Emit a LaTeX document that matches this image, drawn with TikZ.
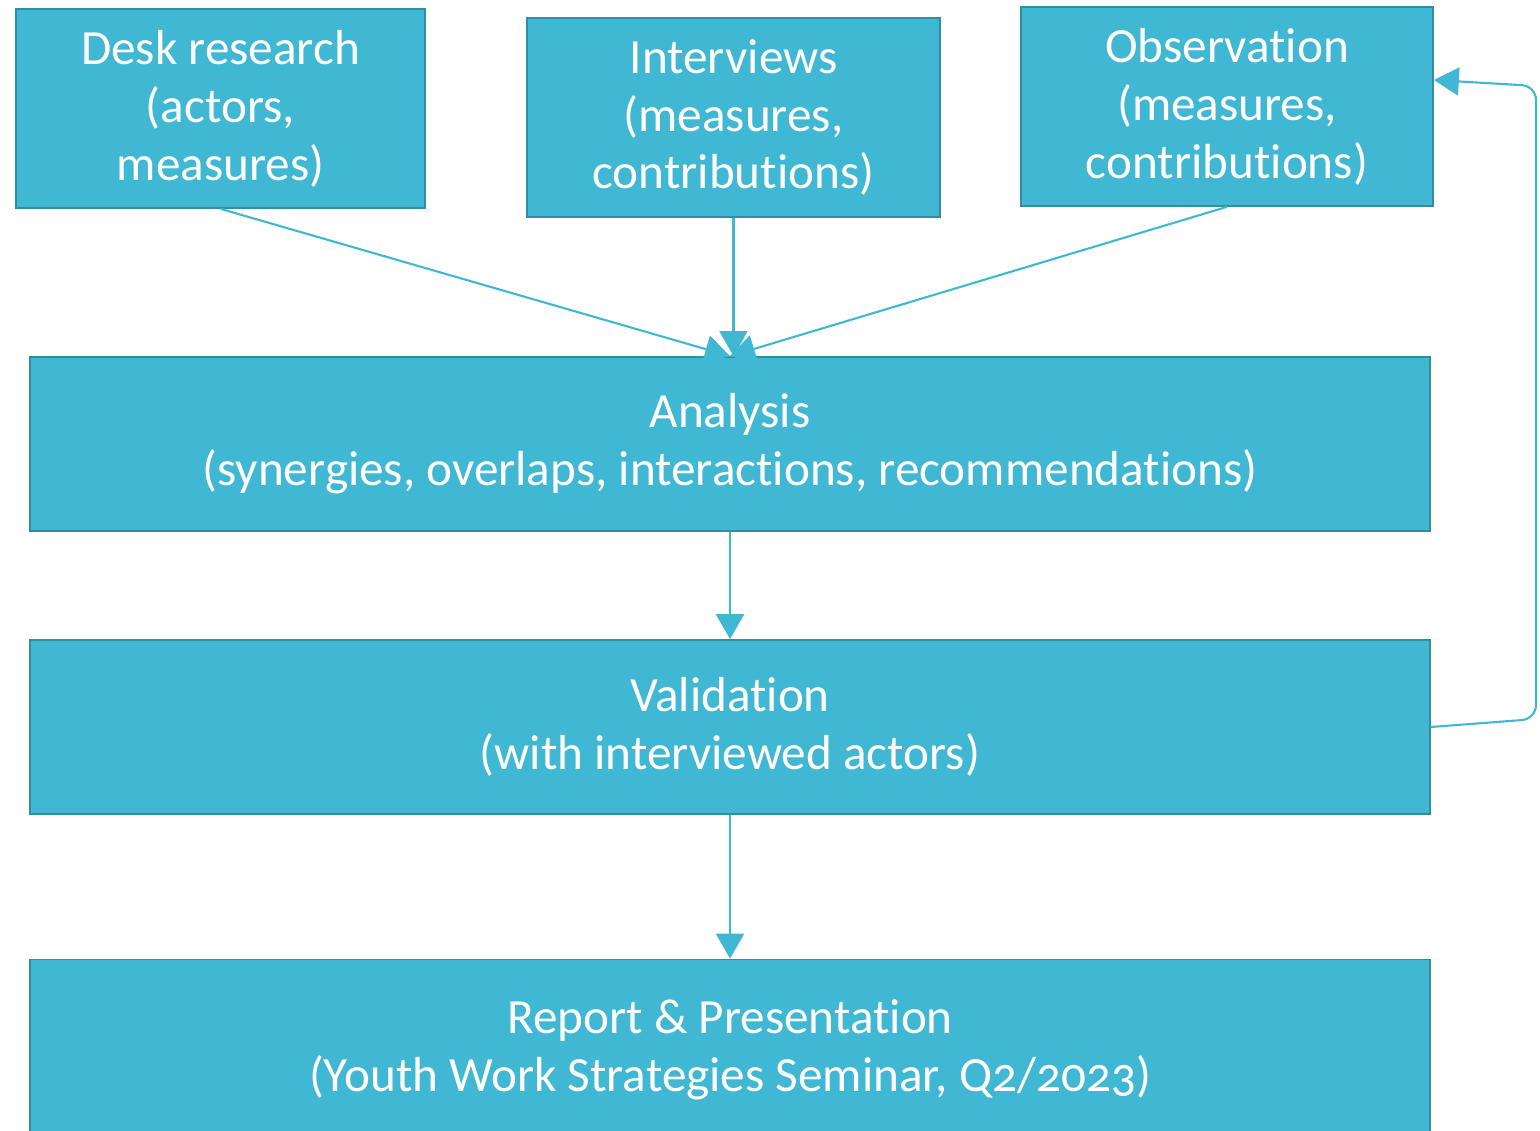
\documentclass[tikz,border=0pt]{standalone}
\usepackage{fontspec}
\setmainfont{Carlito}[Numbers=OldStyle,Ligatures=NoCommon]
\usetikzlibrary{arrows.meta}
\definecolor{boxfill}{HTML}{41B8D3}
\definecolor{boxline}{HTML}{2F8EA4}

\begin{document}
\begin{tikzpicture}[x=0.02cm,y=-0.02cm,
    stepbox/.style={draw=boxline,line width=1pt,fill=boxfill,text=white,
      align=center,inner sep=0pt,
      font=\fontsize{28}{33}\selectfont},
    flow/.style={draw=boxfill,line width=1.2pt,
      -{Triangle[length=0.5cm,width=0.56cm]}}]
      \useasboundingbox (0,0) rectangle (1540,1131);

      \node[stepbox,minimum width=8.18cm,minimum height=3.98cm] (desk) at (220.5,108.5)
        {Desk research\\(actors,\\measures)};
      \node[stepbox,minimum width=8.26cm,minimum height=3.98cm] (interviews) at (733.5,117.5)
        {Interviews\\(measures,\\contributions)};
      \node[stepbox,minimum width=8.24cm,minimum height=3.98cm] (observation) at (1227,106.5)
        {Observation\\(measures,\\contributions)};
      \node[stepbox,minimum width=28cm,minimum height=3.48cm] (analysis) at (730,444)
        {Analysis\\(synergies, overlaps, interactions, recommendations)};
      \node[stepbox,minimum width=28cm,minimum height=3.48cm] (validation) at (730,727)
        {Validation\\(with interviewed actors)};
      \node[stepbox,minimum width=28cm,minimum height=3.62cm] (report) at (730,1050)
        {Report \& Presentation\\(Youth Work Strategies Seminar, Q2/2023)};

      \foreach \a / \b in {desk/analysis, observation/analysis,
        analysis/validation, validation/report} {
        \draw[flow] (\a.south) -- (\b.north);
      }
      \draw[flow] (interviews.south) -- (interviews.south |- analysis.north);
      \draw[flow,rounded corners=8pt] (validation.east) -- (1536,719) -- (1536,86)
        -- (observation.east |- 0,80);
    \end{tikzpicture}
\end{document}
